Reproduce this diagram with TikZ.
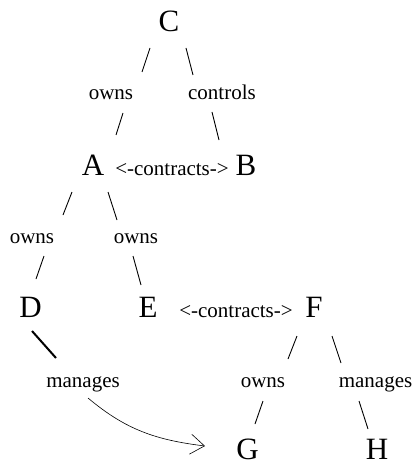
\documentclass[tikz,border=0pt]{standalone}
\usepackage{fontspec}
\setmainfont{Liberation Serif}
\usetikzlibrary{positioning, arrows.meta}

\begin{document}
\begin{tikzpicture}[node distance=70pt, on grid,
    ent/.style={inner sep=0pt, text height=21pt, text depth=0pt, font=\fontsize{31}{31}\selectfont},
    rel/.style={inner sep=0pt, text height=15pt, text depth=4.5pt, font=\fontsize{21}{21}\selectfont},
    tie/.style={line width=0.9pt}]
    \useasboundingbox (-169pt,21pt) rectangle (245pt,-444pt);

    \node[ent] (C) {C};
    \node[rel] (o1) [below left=73.75pt and 58pt of C] {owns};
    \node[rel] (ctl) [below right=73.75pt and 53pt of C] {controls};
    \node[ent] (A) [below left=69.75pt and 18pt of o1] {A};
    \node[ent] (B) [below right=69.75pt and 24pt of ctl] {B};
    \node[rel, anchor=base] (ct1) at ([xshift=79pt]A.base) {<-contracts->};
    \node[rel] (o2) [below left=73.25pt and 61pt of A] {owns};
    \node[rel] (o3) [below right=73.25pt and 43pt of A] {owns};
    \node[ent] (D) [below left=69.25pt and 1.5pt of o2] {D};
    \node[ent] (E) [below right=69.25pt and 12pt of o3] {E};
    \node[ent] (F) [right=166pt of E] {F};
    \node[rel, anchor=base] (ct2) at ([xshift=88pt]E.base) {<-contracts->};
    \node[rel] (m1) [below right=74.75pt and 52.5pt of D] {manages};
    \node[rel] (o4) [below left=74.75pt and 51pt of F] {owns};
    \node[rel] (m2) [below right=74.75pt and 61.5pt of F] {manages};
    \node[ent] (G) [below left=67.5pt and 15.5pt of o4] {G};
    \node[ent] (H) [below right=67.5pt and 1.5pt of m2] {H};

    % slashes between the levels
    \path[tie]
    ([shift={(-19pt,-16.5pt)}]C.base) edge ([shift={(31pt,28pt)}]o1.base)
        ([shift={(17pt,-16.5pt)}]C.base) edge ([shift={(-29pt,25pt)}]ctl.base)
    ([shift={(12pt,-13pt)}]o1.base) edge ([shift={(23pt,40pt)}]A.base)
        ([shift={(-10pt,-12pt)}]ctl.base) edge ([shift={(-27pt,35pt)}]B.base)
    ([shift={(-21pt,-17pt)}]A.base) edge ([shift={(31pt,28pt)}]o2.base)
        ([shift={(15pt,-17pt)}]A.base) edge ([shift={(-19pt,23pt)}]o3.base)
    ([shift={(12pt,-13pt)}]o2.base) edge ([shift={(5.5pt,38.5pt)}]D.base)
        ([shift={(-3pt,-13pt)}]o3.base) edge ([shift={(-7pt,32.5pt)}]E.base)
    ([shift={(-17pt,-18.5pt)}]F.base) edge ([shift={(25pt,28pt)}]o4.base)
        ([shift={(18pt,-18.5pt)}]F.base) edge ([shift={(-34.5pt,24pt)}]m2.base)
    ([shift={(0pt,-14pt)}]o4.base) edge ([shift={(7.5pt,35.75pt)}]G.base)
        ([shift={(-16.5pt,-14pt)}]m2.base) edge ([shift={(-9pt,30.75pt)}]H.base);

    \draw[line width=2pt] ([shift={(1.5pt,-13.5pt)}]D.base) -- ([shift={(-27pt,29pt)}]m1.base);
    \draw[line width=0.6pt, -{Straight Barb[length=14pt, width=20pt]}]
        ([shift={(5pt,-11pt)}]m1.base) to[out=-40, in=173] ([shift={(-42.5pt,13.75pt)}]G.base);
\end{tikzpicture}
\end{document}
